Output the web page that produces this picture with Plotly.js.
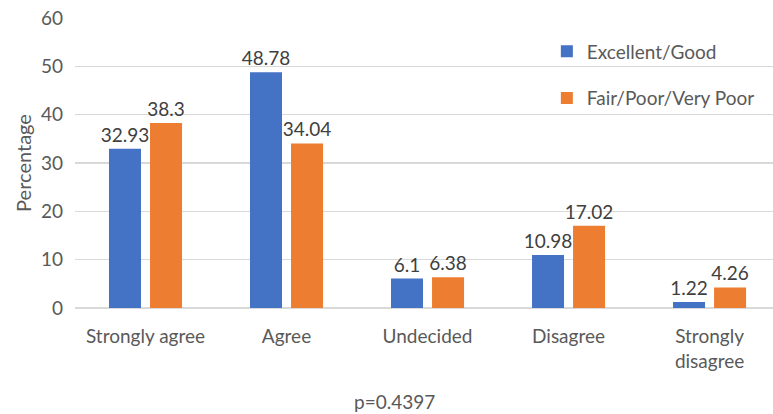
<!DOCTYPE html>
<html>
<head>
<meta charset="utf-8">
<script src="https://cdn.plot.ly/plotly-3.0.1.min.js"></script>
<style>html,body{margin:0;padding:0;background:#fff;}#chart{width:773px;height:414px;}</style>
</head>
<body>
<div id="chart"></div>
<script>
const categories = ["Strongly agree", "Agree", "Undecided", "Disagree", "Strongly<br>disagree"];
const seriesNames = ["Excellent/Good", "Fair/Poor/Very Poor"];
const excellentGood = [32.93, 48.78, 6.1, 10.98, 1.22];
const fairPoor = [38.3, 34.04, 6.38, 17.02, 4.26];
const excellentLabels = ["32.93", "48.78", "6.1", "10.98", "1.22"];
const fairLabels = ["38.3", "34.04", "6.38", "17.02", "4.26"];
const yTicks = [0, 10, 20, 30, 40, 50, 60];
const pValueText = "p=0.4397";
const yTitle = "Percentage";

const FONT = "Lato, 'Open Sans', sans-serif";
const xIdx = categories.map((c, i) => i);

const traces = [
  {
    type: "bar", name: seriesNames[0], x: xIdx, y: excellentGood,
    text: excellentLabels, texttemplate: "%{text}", textposition: "outside",
    constraintext: "none", cliponaxis: false,
    textfont: {family: FONT, size: 19, color: "#404040"},
    marker: {color: "#4472C4"}, legendgroup: "a", hoverinfo: "none"
  },
  {
    type: "bar", name: seriesNames[1], x: xIdx, y: fairPoor,
    text: fairLabels, texttemplate: "%{text}", textposition: "outside",
    constraintext: "none", cliponaxis: false,
    textfont: {family: FONT, size: 19, color: "#404040"},
    marker: {color: "#ED7D31"}, legendgroup: "b", hoverinfo: "none"
  }
];

const layout = {
  width: 773, height: 414,
  margin: {l: 75, r: 0, t: 17.5, b: 106},
  paper_bgcolor: "#fff", plot_bgcolor: "#fff",
  font: {family: FONT, size: 19, color: "#595959"},
  barmode: "group", bargap: 0.418, bargroupgap: 0.22,
  showlegend: true,
  legend: {
    x: 0.676, y: 0.95, xanchor: "left", yanchor: "top",
    bgcolor: "rgba(0,0,0,0)", tracegroupgap: 19,
    font: {family: FONT, size: 19, color: "#595959"},
    itemwidth: 30
  },
  xaxis: {
    range: [-0.5, 4.45], tickmode: "array", tickvals: xIdx, ticktext: categories,
    showgrid: false, zeroline: false, showline: false, ticks: "",
    tickfont: {family: FONT, size: 19, color: "#595959"},
    ticklabelstandoff: 15, fixedrange: true
  },
  yaxis: {
    range: [0, 60], tickmode: "array", tickvals: yTicks,
    showgrid: true, gridcolor: "#d9d9d9", gridwidth: 1.5,
    zeroline: true, zerolinecolor: "#d9d9d9", zerolinewidth: 1.5,
    showline: false, ticks: "",
    tickfont: {family: FONT, size: 19, color: "#595959"},
    ticklabelstandoff: 11,
    title: {text: yTitle, font: {family: FONT, size: 20, color: "#595959"}, standoff: 3},
    fixedrange: true
  },
  annotations: [
    {text: pValueText, xref: "paper", yref: "paper", x: 0.458, y: -0.322,
     xanchor: "center", yanchor: "middle", showarrow: false,
     font: {family: FONT, size: 19, color: "#595959"}}
  ]
};

Plotly.newPlot("chart", traces, layout, {displayModeBar: false, staticPlot: true});
</script>
</body>
</html>
